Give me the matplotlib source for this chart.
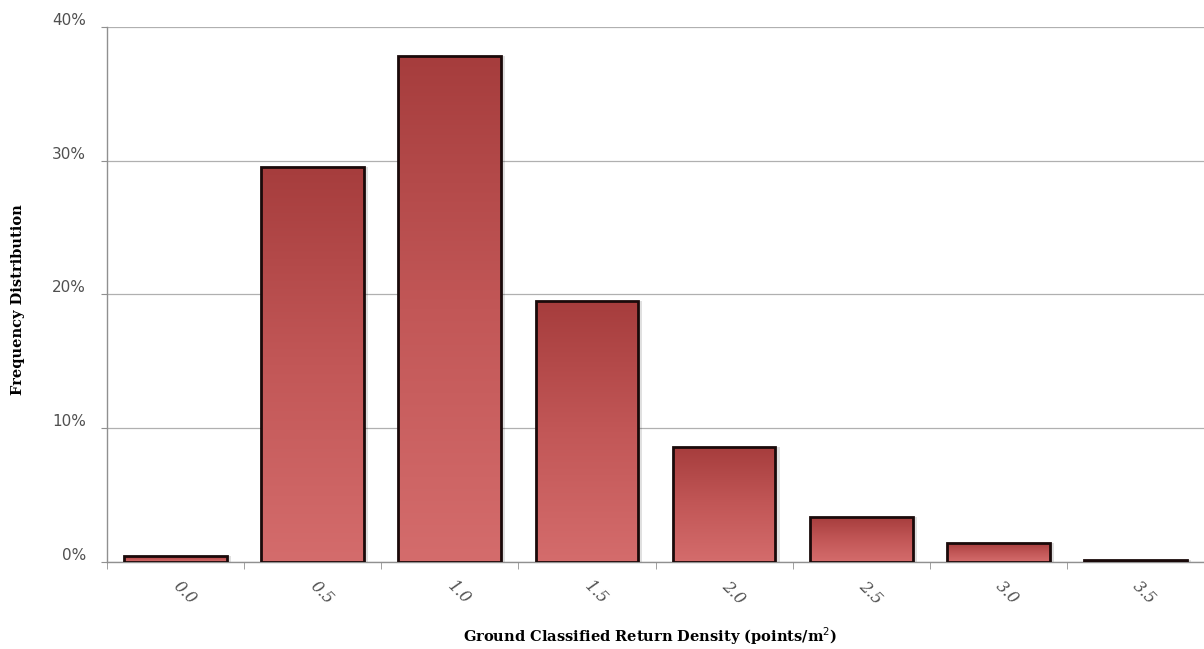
import numpy as np
import matplotlib
matplotlib.use("Agg")
import matplotlib.pyplot as plt
import matplotlib.transforms as mtransforms
from matplotlib.colors import LinearSegmentedColormap
from matplotlib.patches import Rectangle
from matplotlib.ticker import FixedLocator, PercentFormatter

categories = ['0.0', '0.5', '1.0', '1.5', '2.0', '2.5', '3.0', '3.5']
freq_pct = [0.4, 29.5, 37.8, 19.5, 8.6, 3.3, 1.4, 0.15]
y_ticks = [0, 10, 20, 30, 40]

BAR_W = 0.75
shade = LinearSegmentedColormap.from_list('bar', ['#d46c6c', '#c25757', '#a63d3d'])

fig = plt.figure(figsize=(12.04, 6.49), dpi=100)
ax = fig.add_axes([0.0889, 0.1348, 0.9111, 0.8236])
x = np.arange(len(categories))

grad = np.linspace(0, 1, 256).reshape(-1, 1)
for xi, v in zip(x, freq_pct):
    x0, x1 = xi - BAR_W / 2, xi + BAR_W / 2
    # soft shadow to the right of each bar
    ax.add_patch(Rectangle((x1, 0), 0.03, v, facecolor='#000000', alpha=0.12,
                           edgecolor='none', zorder=2))
    im = ax.imshow(grad, cmap=shade, aspect='auto', origin='lower',
                   extent=(x0, x1, 0, v), zorder=3, interpolation='bilinear')
    rect = Rectangle((x0, 0), BAR_W, v, facecolor='none', edgecolor='#1a0a0a',
                     linewidth=2.0, zorder=4)
    ax.add_patch(rect)
    im.set_clip_path(rect)

ax.set_xlim(-0.5, len(categories) - 0.5)
ax.set_ylim(0, 40)
ax.set_yticks(y_ticks)
ax.yaxis.set_major_formatter(PercentFormatter(decimals=0))
ax.grid(axis='y', color='#b0b0b0', linewidth=0.9, zorder=0)
ax.set_axisbelow(True)

# category labels centred under bars, tick marks on the boundaries
ax.xaxis.set_major_locator(FixedLocator(x))
ax.set_xticklabels(categories, rotation=-45, ha='center', va='top',
                   fontstyle='italic', family='DejaVu Serif', fontsize=11.5,
                   color='#505050')
ax.tick_params(axis='x', which='major', length=0, pad=12)
ax.xaxis.set_minor_locator(FixedLocator(np.arange(len(categories) + 1) - 0.5))
ax.tick_params(axis='x', which='minor', length=5, color='#909090', direction='out')
ax.tick_params(axis='y', length=4, color='#909090', labelsize=11,
               labelcolor='#505050', pad=11)

# percentage labels sit slightly above their gridlines
lift = mtransforms.ScaledTranslation(0, 8 / 100, fig.dpi_scale_trans)
for lab in ax.get_yticklabels():
    lab.set_transform(lab.get_transform() + lift)
nudge = mtransforms.ScaledTranslation(9 / 100, 0, fig.dpi_scale_trans)
for lab in ax.get_xticklabels():
    lab.set_transform(lab.get_transform() + nudge)

for side in ('top', 'right'):
    ax.spines[side].set_visible(False)
for side in ('left', 'bottom'):
    ax.spines[side].set_color('#909090')
    ax.spines[side].set_linewidth(1.0)

fig.text(18 / 1204, 1 - 300 / 649, 'Frequency Distribution', rotation=90,
         ha='center', va='center', family='DejaVu Serif', fontweight='bold',
         fontsize=10.5)
fig.text(650 / 1204, 1 - 636 / 649, 'Ground Classified Return Density (points/m$^2$)',
         ha='center', va='center', family='DejaVu Serif', fontweight='bold',
         fontsize=10.5)

fig.savefig('out.png', dpi=100)
